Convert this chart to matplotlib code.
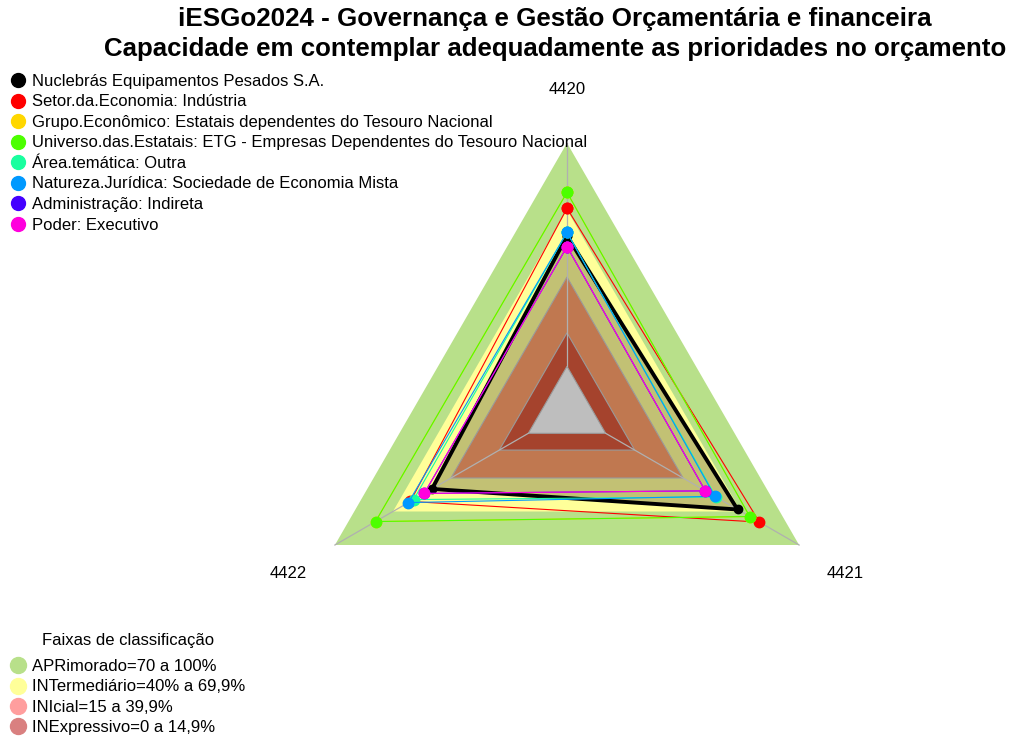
import numpy as np
import matplotlib.pyplot as plt
from matplotlib.lines import Line2D

plt.rcParams['font.family'] = ['Liberation Sans', 'DejaVu Sans']

# eixos do radar (sentido horario, comecando no topo)
EIXOS = ['4420', '4421', '4422']
ANGULOS = np.deg2rad([90, -30, 210])

NOMES = ['Nuclebrás Equipamentos Pesados S.A.',
         'Setor.da.Economia: Indústria',
         'Grupo.Econômico: Estatais dependentes do Tesouro Nacional',
         'Universo.das.Estatais: ETG - Empresas Dependentes do Tesouro Nacional',
         'Área.temática: Outra',
         'Natureza.Jurídica: Sociedade de Economia Mista',
         'Administração: Indireta',
         'Poder: Executivo']
CORES = ['#000000', '#FF0000', '#FFD700', '#4CFF00',
         '#19FF9F', '#0099FF', '#4400FF', '#FF00DD']

nuclebras = [58.4, 68.2, 49.8]
setor = [70.8, 79.5, 61.0]
grupo = [77.9, 74.5, 79.0]
universo = [77.9, 74.5, 79.0]
area = [60.0, 57.0, 59.3]
natureza = [60.0, 56.4, 62.0]
administracao = [53.6, 51.5, 53.8]
poder = [53.6, 51.5, 53.8]
VALORES = [nuclebras, setor, grupo, universo, area, natureza, administracao, poder]

# faixas de classificacao
FAIXAS = ['APRimorado=70 a 100%', 'INTermediário=40% a 69,9%',
          'INIcial=15 a 39,9%', 'INExpressivo=0 a 14,9%']
FAIXAS_LEG_CORES = ['#B8E08A', '#FFFF99', '#FF9E9E', '#D98080']
LIMITES = [100, 70, 40, 15, 0]
FUNDO_CORES = ['#B8E08A', '#FFFF99', '#C07850', '#A5432D', '#BEBEBE']
COR_OLIVA = '#C2C174'


def para_xy(valores):
    v = np.asarray(valores, dtype=float)
    r = 1 / 6 + v / 100 * 5 / 6
    x = r * np.cos(ANGULOS)
    y = r * np.sin(ANGULOS)
    return np.append(x, x[0]), np.append(y, y[0])


W, H = 1021, 738
fig = plt.figure(figsize=(W / 100, H / 100), dpi=100)
ax = fig.add_axes([0, 0, 1, 1])
cx, cy, R = 567, 411, 268
ax.set_xlim(-cx / R, (W - cx) / R)
ax.set_ylim(-(H - cy) / R, cy / R)
ax.axis('off')

# fundo: triangulos das faixas
for i, lim in enumerate(LIMITES[:2]):
    x, y = para_xy([lim] * 3)
    ax.fill(x, y, color=FUNDO_CORES[i], lw=0, zorder=1)
x, y = para_xy(nuclebras)
ax.fill(x, y, color=COR_OLIVA, lw=0, zorder=2)
for i, lim in enumerate(LIMITES[2:]):
    x, y = para_xy([lim] * 3)
    ax.fill(x, y, facecolor=FUNDO_CORES[i + 2], edgecolor='#9A9A9A', lw=0.8, zorder=3)

# raios
x0, y0 = para_xy([0] * 3)
x1, y1 = para_xy([100] * 3)
for k in range(3):
    ax.plot([x0[k], x1[k]], [y0[k], y1[k]], color='#B0B0B0', lw=0.9, zorder=4)

# series
for i, (vals, cor) in enumerate(zip(VALORES, CORES)):
    x, y = para_xy(vals)
    if i == 0:
        ax.plot(x, y, color=cor, lw=2.8, marker='o', ms=6, zorder=5)
    else:
        ax.plot(x, y, color=cor, lw=0.8, marker='o', ms=7.5, zorder=5)

# rotulos dos eixos
xl, yl = para_xy([124] * 3)
for k, nome in enumerate(EIXOS):
    dy = 0 if k == 0 else -2 / R
    ax.text(xl[k], yl[k] + dy, nome, ha='center', va='center', fontsize=12)

# titulo
fig.text(555 / W, 1 - 19 / H, 'iESGo2024 - Governança e Gestão Orçamentária e financeira',
         ha='center', va='center', fontsize=18.7, fontweight='bold')
fig.text(555 / W, 1 - 49 / H, 'Capacidade em contemplar adequadamente as prioridades no orçamento',
         ha='center', va='center', fontsize=18.6, fontweight='bold')
fig.text(35 / W, 1 + 4 / H, 'ç', ha='left', va='baseline', fontsize=14, color='#2E4A9A')

# legendas
h1 = [Line2D([], [], ls='', marker='o', ms=10, color=c) for c in CORES]
fig.legend(h1, NOMES, loc='upper left', bbox_to_anchor=(10 / W, 1 - 74 / H),
           frameon=False, fontsize=12, borderpad=0, borderaxespad=0,
           handlelength=0.9, handletextpad=0.45, labelspacing=0.33)

fig.text(128 / W, 1 - 640 / H, 'Faixas de classificação', ha='center', va='center', fontsize=12)
h2 = [Line2D([], [], ls='', marker='o', ms=11.5, color=c) for c in FAIXAS_LEG_CORES]
fig.legend(h2, FAIXAS, loc='upper left', bbox_to_anchor=(10 / W, 1 - 659 / H),
           frameon=False, fontsize=12, borderpad=0, borderaxespad=0,
           handlelength=0.9, handletextpad=0.45, labelspacing=0.32)

fig.savefig('out.png', dpi=100)
